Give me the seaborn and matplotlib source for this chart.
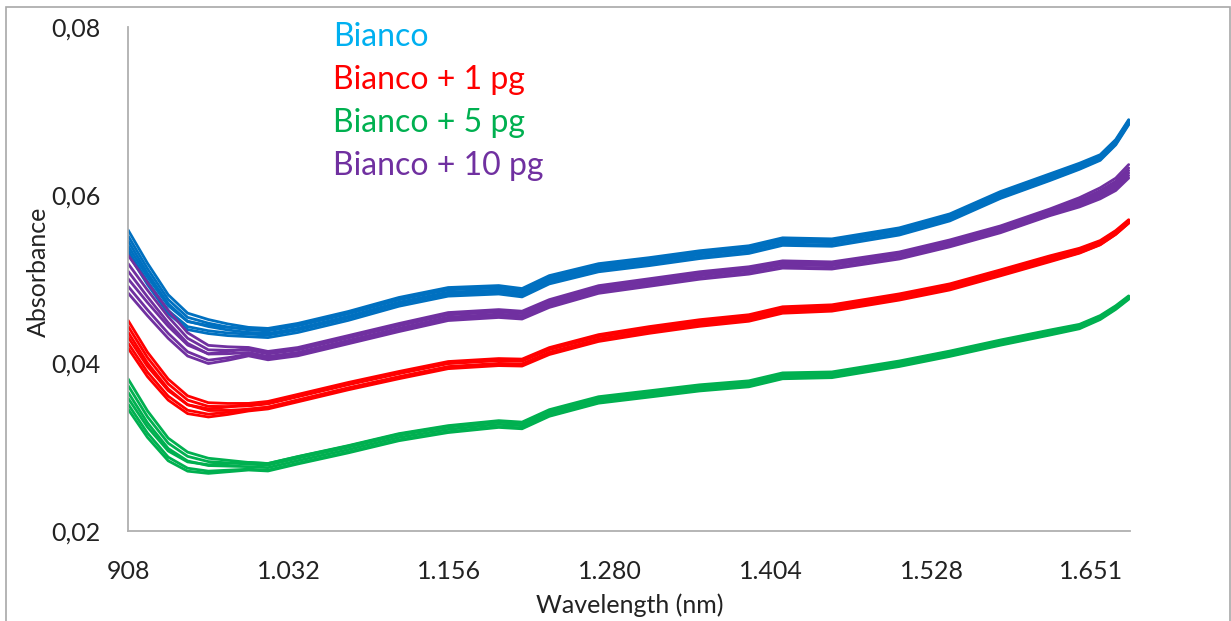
import numpy as np
import pandas as pd
import matplotlib
matplotlib.use("Agg")
import matplotlib.pyplot as plt
from matplotlib.patches import Rectangle
from matplotlib.ticker import FuncFormatter
import seaborn as sns

# Wavelength grid (nm) where the averaged spectra were sampled
wavelength = [908, 923, 939, 954, 970, 985, 1001, 1016, 1039, 1078, 1117, 1155,
              1194, 1212, 1233, 1271, 1310, 1349, 1387, 1413, 1451, 1503, 1542,
              1581, 1619, 1642, 1658, 1670, 1680]

# Mean absorbance of each sample group
bianco = [0.05435, 0.05054, 0.04696, 0.04493, 0.04434, 0.04398, 0.04374, 0.04362,
          0.04422, 0.04565, 0.04732, 0.04851, 0.04875, 0.04840, 0.04994, 0.05137,
          0.05209, 0.05292, 0.05352, 0.05447, 0.05435, 0.05567, 0.05734, 0.06000,
          0.06211, 0.06342, 0.06446, 0.06628, 0.06867]
bianco_1pg = [0.04338, 0.03980, 0.03682, 0.03503, 0.03444, 0.03456, 0.03479, 0.03503,
              0.03587, 0.03730, 0.03861, 0.03980, 0.04016, 0.04010, 0.04147, 0.04302,
              0.04398, 0.04481, 0.04541, 0.04636, 0.04660, 0.04791, 0.04911, 0.05078,
              0.05245, 0.05340, 0.05434, 0.05555, 0.05686]
bianco_5pg = [0.03622, 0.03265, 0.02966, 0.02823, 0.02776, 0.02776, 0.02776, 0.02764,
              0.02847, 0.02978, 0.03121, 0.03217, 0.03277, 0.03260, 0.03408, 0.03563,
              0.03634, 0.03706, 0.03754, 0.03849, 0.03861, 0.03992, 0.04111, 0.04243,
              0.04362, 0.04434, 0.04541, 0.04660, 0.04779]
bianco_10pg = [0.05054, 0.04756, 0.04457, 0.04219, 0.04100, 0.04112, 0.04135, 0.04088,
               0.04135, 0.04278, 0.04422, 0.04553, 0.04589, 0.04570, 0.04708, 0.04875,
               0.04958, 0.05042, 0.05102, 0.05173, 0.05161, 0.05280, 0.05424, 0.05591,
               0.05793, 0.05913, 0.06020, 0.06127, 0.06282]

groups = ["Bianco", "Bianco + 1 pg", "Bianco + 5 pg", "Bianco + 10 pg"]
line_colors = ["#0070C0", "#FF0000", "#00B050", "#7030A0"]
label_colors = ["#00B0F0", "#FF0000", "#00B050", "#7030A0"]

# Replicate deviations from the group mean at: start, after the dip, plateau end, last point
anchor_wl = [908, 1001, 1619, 1680]
rep_offsets = {
    "Bianco": [[0.0015, 0.0005, 0.0004, 0.0003], [0.0008, 0.0002, 0.0002, 0.0002],
               [0.0002, -0.0001, 0.0000, 0.0000], [-0.0004, 0.0004, -0.0001, -0.0001],
               [-0.0009, -0.0003, -0.0003, -0.0002], [-0.0013, -0.0006, -0.0004, -0.0003]],
    "Bianco + 1 pg": [[0.0017, 0.0004, 0.0003, 0.0002], [0.0010, 0.0001, 0.0002, 0.0001],
                      [0.0003, -0.0003, 0.0000, 0.0000], [-0.0003, 0.0003, -0.0001, -0.0001],
                      [-0.0010, -0.0003, -0.0003, -0.0002], [-0.0016, -0.0005, -0.0004, -0.0002]],
    "Bianco + 5 pg": [[0.0019, 0.0004, 0.0003, 0.0002], [0.0011, 0.0002, 0.0002, 0.0001],
                      [0.0003, -0.0001, 0.0000, 0.0000], [-0.0004, 0.0004, -0.0001, -0.0001],
                      [-0.0011, -0.0004, -0.0002, -0.0001], [-0.0017, -0.0005, -0.0003, -0.0002]],
    "Bianco + 10 pg": [[0.0023, 0.0005, 0.0004, 0.0008], [0.0013, 0.0002, 0.0002, 0.0004],
                       [0.0004, -0.0001, 0.0000, 0.0001], [-0.0005, 0.0004, -0.0001, -0.0002],
                       [-0.0014, -0.0003, -0.0003, -0.0005], [-0.0022, -0.0005, -0.0004, -0.0008]],
}

means = dict(zip(groups, [bianco, bianco_1pg, bianco_5pg, bianco_10pg]))

wl = np.array(wavelength, dtype=float)
rows = []
for g in groups:
    for r, offs in enumerate(rep_offsets[g]):
        dev = np.interp(wl, anchor_wl, offs)
        vals = np.array(means[g]) + dev
        for w, v in zip(wl, vals):
            rows.append({"wavelength": w, "absorbance": v, "group": g, "rep": r})
df = pd.DataFrame(rows)

sns.set_theme(style="white")
plt.rcParams["font.family"] = ["Lato", "DejaVu Sans"]

fig = plt.figure(figsize=(12.31, 6.21), dpi=100)
ax = fig.add_axes([128 / 1231, 1 - 531 / 621, (1130 - 128) / 1231, (531 - 27) / 621])

sns.lineplot(data=df, x="wavelength", y="absorbance", hue="group", units="rep",
             estimator=None, palette=dict(zip(groups, line_colors)), hue_order=groups,
             linewidth=2.0, legend=False, ax=ax)
for line in ax.lines:
    line.set_solid_joinstyle("round")
    line.set_solid_capstyle("round")

ax.set_xlim(908, 1681)
ax.set_ylim(0.02, 0.08)
ax.set_xticks([908, 1032, 1156, 1280, 1404, 1528, 1651])
ax.set_yticks([0.02, 0.04, 0.06, 0.08])
ax.xaxis.set_major_formatter(FuncFormatter(lambda v, p: f"{int(round(v)):,}".replace(",", ".")))
ax.yaxis.set_major_formatter(FuncFormatter(lambda v, p: f"{v:.2f}".replace(".", ",")))
ax.tick_params(axis="both", length=0, labelsize=18, colors="#222222")
ax.tick_params(axis="x", pad=21)
ax.tick_params(axis="y", pad=20)

for s in ["top", "right"]:
    ax.spines[s].set_visible(False)
for s in ["left", "bottom"]:
    ax.spines[s].set_color("#b0b0b0")
    ax.spines[s].set_linewidth(1.3)

ax.set_xlabel("Wavelength (nm)", fontsize=18, color="#222222", va="center")
ax.set_ylabel("Absorbance", fontsize=18, color="#222222", va="center")
ax.xaxis.set_label_coords((630 - 128) / (1130 - 128), -(605 - 531) / (531 - 27))
ax.yaxis.set_label_coords(-(128 - 38) / (1130 - 128), (531 - 272) / (531 - 27))

for i, (g, c) in enumerate(zip(groups, label_colors)):
    fig.text(333 / 1231, 1 - (37 + 43 * i) / 621, g, color=c, fontsize=23,
             ha="left", va="center")

fig.add_artist(Rectangle((6 / 1231, -0.05), (1230 - 6) / 1231, 1.05 - 7 / 621,
                         transform=fig.transFigure, fill=False,
                         edgecolor="#a8a8a8", linewidth=1.2))

fig.savefig("out.png", dpi=100, facecolor="white")
